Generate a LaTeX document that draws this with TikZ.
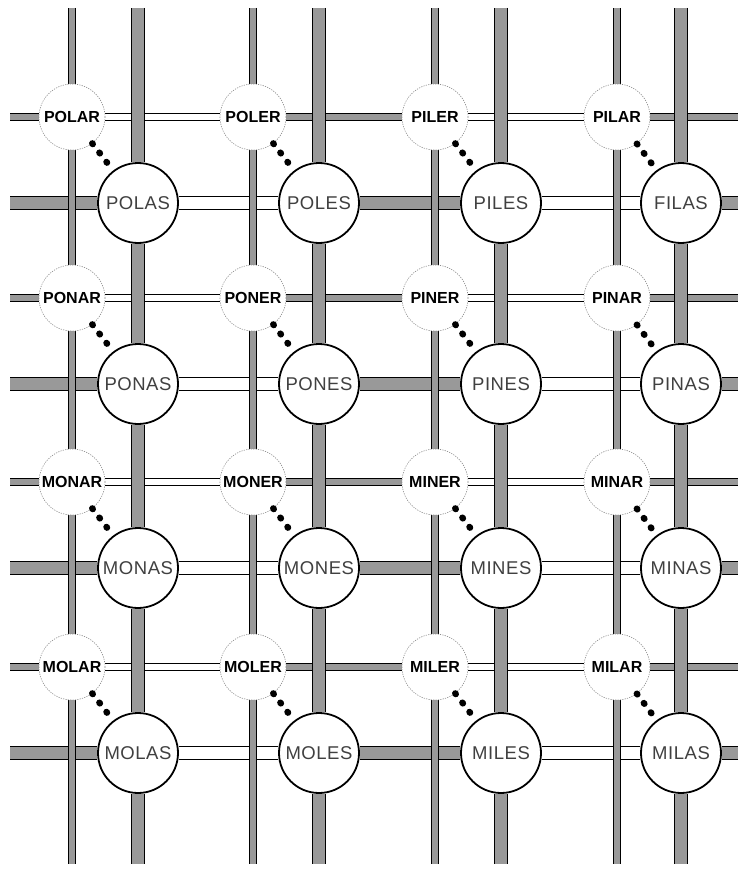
\documentclass[tikz,border=0pt]{standalone}
\usepackage{fontspec}
\setmainfont{Liberation Sans}
\usetikzlibrary{positioning}
\definecolor{tubegray}{gray}{0.6}
\pgfdeclarelayer{hbars}
\pgfdeclarelayer{vbars}
\pgfsetlayers{hbars,vbars,main}

\begin{document}
\begin{tikzpicture}[x=1pt,y=-1pt,
  back/.style={circle,draw=black!45,dash pattern=on 1.2pt off 1.2pt,line width=.6pt,fill=white,
    minimum size=66pt,inner sep=0pt,font=\bfseries\fontsize{16}{16}\selectfont},
  front/.style={circle,draw,line width=1.8pt,fill=white,minimum size=80pt,inner sep=0pt,
    text=black!75,font=\fontsize{18.5}{18.5}\selectfont\addfontfeatures{LetterSpace=3}},
  fbar/.style={line width=1.3pt,double distance=12pt},
  bbar/.style={line width=1.1pt,double distance=6.5pt},
  gry/.style={double=tubegray},
  wht/.style={double=white},
  link/.style={line width=6.5pt,line cap=round,dash pattern=on 0.8pt off 10.9pt}]
\useasboundingbox (0,0) rectangle (738,869);
\coordinate (topedge) at (0,8);
\coordinate (botedge) at (0,864);
\coordinate (lftedge) at (10,0);
\coordinate (rgtedge) at (738,0);

% back words (-AR / -ER)
\node[back] (b11) at (72,117) {POLAR};
\node[back] (b12) at (253,117) {POLER};
\node[back] (b13) at (435,117) {PILER};
\node[back] (b14) at (617,117) {PILAR};
\node[back] (b21) at (72,298) {PONAR};
\node[back] (b22) at (253,298) {PONER};
\node[back] (b23) at (435,298) {PINER};
\node[back] (b24) at (617,298) {PINAR};
\node[back] (b31) at (72,482) {MONAR};
\node[back] (b32) at (253,482) {MONER};
\node[back] (b33) at (435,482) {MINER};
\node[back] (b34) at (617,482) {MINAR};
\node[back] (b41) at (72,667) {MOLAR};
\node[back] (b42) at (253,667) {MOLER};
\node[back] (b43) at (435,667) {MILER};
\node[back] (b44) at (617,667) {MILAR};

% front words (-AS / -ES)
\node[front] (f11) at (138,203) {POLAS};
\node[front] (f12) at (319,203) {POLES};
\node[front] (f13) at (501,203) {PILES};
\node[front] (f14) at (681,203) {FILAS};
\node[front] (f21) at (138,384) {PONAS};
\node[front] (f22) at (319,384) {PONES};
\node[front] (f23) at (501,384) {PINES};
\node[front] (f24) at (681,384) {PINAS};
\node[front] (f31) at (138,568) {MONAS};
\node[front] (f32) at (319,568) {MONES};
\node[front] (f33) at (501,568) {MINES};
\node[front] (f34) at (681,568) {MINAS};
\node[front] (f41) at (138,753) {MOLAS};
\node[front] (f42) at (319,753) {MOLES};
\node[front] (f43) at (501,753) {MILES};
\node[front] (f44) at (681,753) {MILAS};

% horizontal bars
\begin{pgfonlayer}{hbars}
\draw[bbar,gry] (lftedge |- b11) -- (b11) (b12) -- (b13) (b14) -- (rgtedge |- b14);
\draw[bbar,wht] (b11) -- (b12) (b13) -- (b14);
\draw[bbar,gry] (lftedge |- b21) -- (b21) (b22) -- (b23) (b24) -- (rgtedge |- b24);
\draw[bbar,wht] (b21) -- (b22) (b23) -- (b24);
\draw[bbar,gry] (lftedge |- b31) -- (b31) (b32) -- (b33) (b34) -- (rgtedge |- b34);
\draw[bbar,wht] (b31) -- (b32) (b33) -- (b34);
\draw[bbar,gry] (lftedge |- b41) -- (b41) (b42) -- (b43) (b44) -- (rgtedge |- b44);
\draw[bbar,wht] (b41) -- (b42) (b43) -- (b44);
\draw[fbar,gry] (lftedge |- f11) -- (f11) (f12) -- (f13) (f14) -- (rgtedge |- f14);
\draw[fbar,wht] (f11) -- (f12) (f13) -- (f14);
\draw[fbar,gry] (lftedge |- f21) -- (f21) (f22) -- (f23) (f24) -- (rgtedge |- f24);
\draw[fbar,wht] (f21) -- (f22) (f23) -- (f24);
\draw[fbar,gry] (lftedge |- f31) -- (f31) (f32) -- (f33) (f34) -- (rgtedge |- f34);
\draw[fbar,wht] (f31) -- (f32) (f33) -- (f34);
\draw[fbar,gry] (lftedge |- f41) -- (f41) (f42) -- (f43) (f44) -- (rgtedge |- f44);
\draw[fbar,wht] (f41) -- (f42) (f43) -- (f44);
\end{pgfonlayer}

% vertical bars
\begin{pgfonlayer}{vbars}
\draw[bbar,gry] (b11 |- topedge) -- (b11) (b11) -- (b21) (b21) -- (b31) (b31) -- (b41) (b41) -- (b41 |- botedge);
\draw[bbar,gry] (b12 |- topedge) -- (b12) (b12) -- (b22) (b22) -- (b32) (b32) -- (b42) (b42) -- (b42 |- botedge);
\draw[bbar,gry] (b13 |- topedge) -- (b13) (b13) -- (b23) (b23) -- (b33) (b33) -- (b43) (b43) -- (b43 |- botedge);
\draw[bbar,gry] (b14 |- topedge) -- (b14) (b14) -- (b24) (b24) -- (b34) (b34) -- (b44) (b44) -- (b44 |- botedge);
\draw[fbar,gry] (f11 |- topedge) -- (f11) (f11) -- (f21) (f21) -- (f31) (f31) -- (f41) (f41) -- (f41 |- botedge);
\draw[fbar,gry] (f12 |- topedge) -- (f12) (f12) -- (f22) (f22) -- (f32) (f32) -- (f42) (f42) -- (f42 |- botedge);
\draw[fbar,gry] (f13 |- topedge) -- (f13) (f13) -- (f23) (f23) -- (f33) (f33) -- (f43) (f43) -- (f43 |- botedge);
\draw[fbar,gry] (f14 |- topedge) -- (f14) (f14) -- (f24) (f24) -- (f34) (f34) -- (f44) (f44) -- (f44 |- botedge);
\end{pgfonlayer}

% dotted links back -> front
\draw[link] (b11) -- (f11);
\draw[link] (b12) -- (f12);
\draw[link] (b13) -- (f13);
\draw[link] (b14) -- (f14);
\draw[link] (b21) -- (f21);
\draw[link] (b22) -- (f22);
\draw[link] (b23) -- (f23);
\draw[link] (b24) -- (f24);
\draw[link] (b31) -- (f31);
\draw[link] (b32) -- (f32);
\draw[link] (b33) -- (f33);
\draw[link] (b34) -- (f34);
\draw[link] (b41) -- (f41);
\draw[link] (b42) -- (f42);
\draw[link] (b43) -- (f43);
\draw[link] (b44) -- (f44);
\end{tikzpicture}
\end{document}
